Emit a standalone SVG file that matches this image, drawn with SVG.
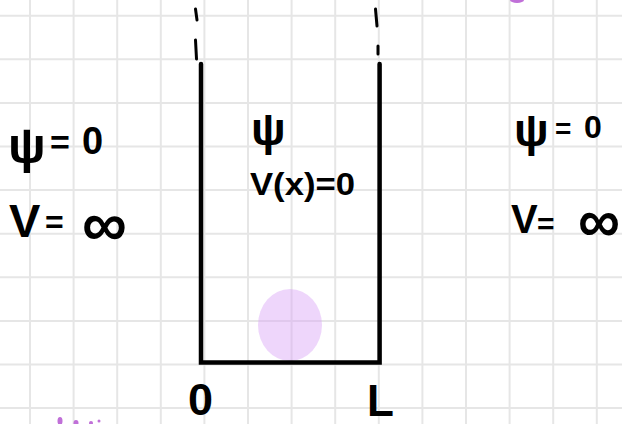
<svg xmlns="http://www.w3.org/2000/svg" width="622" height="424" viewBox="0 0 622 424">
<defs>
<style>
.grid line{stroke:#e6e6e6;stroke-width:2}
.wall{stroke:#000;stroke-width:4.5;fill:none;stroke-linecap:round;stroke-linejoin:miter}
.dash{stroke:#000;stroke-width:3;stroke-linecap:round;fill:none}
.t{font-family:"Liberation Sans","DejaVu Sans",sans-serif;font-weight:bold;fill:#000}
.p{fill:#c070d8}
</style>
</defs>
<rect width="622" height="424" fill="#fff"/>
<g class="grid">
<line x1="30" y1="0" x2="30" y2="424"/><line x1="73.6" y1="0" x2="73.6" y2="424"/><line x1="117.2" y1="0" x2="117.2" y2="424"/><line x1="160.8" y1="0" x2="160.8" y2="424"/><line x1="204.4" y1="0" x2="204.4" y2="424"/><line x1="248" y1="0" x2="248" y2="424"/><line x1="291.6" y1="0" x2="291.6" y2="424"/><line x1="335.2" y1="0" x2="335.2" y2="424"/><line x1="378.8" y1="0" x2="378.8" y2="424"/><line x1="422.4" y1="0" x2="422.4" y2="424"/><line x1="466" y1="0" x2="466" y2="424"/><line x1="509.6" y1="0" x2="509.6" y2="424"/><line x1="553.2" y1="0" x2="553.2" y2="424"/><line x1="596.8" y1="0" x2="596.8" y2="424"/>
<line x1="0" y1="15.7" x2="622" y2="15.7"/><line x1="0" y1="59.3" x2="622" y2="59.3"/><line x1="0" y1="102.9" x2="622" y2="102.9"/><line x1="0" y1="146.5" x2="622" y2="146.5"/><line x1="0" y1="190.1" x2="622" y2="190.1"/><line x1="0" y1="233.7" x2="622" y2="233.7"/><line x1="0" y1="277.3" x2="622" y2="277.3"/><line x1="0" y1="320.9" x2="622" y2="320.9"/><line x1="0" y1="364.5" x2="622" y2="364.5"/><line x1="0" y1="408.1" x2="622" y2="408.1"/>
</g>
<ellipse id="particle" cx="290" cy="325" rx="32" ry="36" fill="#d9a4f7" fill-opacity="0.45"/>
<g id="well">
<path class="wall" d="M201,64 L201,362.5 L379.6,362.5 L379.6,64"/>
<path class="dash" d="M195.5,9 L197,20" stroke-width="3.5"/>
<path class="dash" d="M195.5,40 L196.5,59"/>
<path class="dash" d="M375.5,9 L377,26" stroke-width="3.5"/>
<path class="dash" d="M378,46 L378,54" stroke-width="3.5"/>
</g>
<g id="left-labels">
<text class="t"><tspan x="8" y="163" font-size="50">ψ</tspan><tspan x="50" y="154" font-size="34">=</tspan><tspan x="82" y="154" font-size="38">0</tspan></text>
<text class="t"><tspan x="9" y="237" font-size="47">V</tspan><tspan x="45" y="233" font-size="32">=</tspan><tspan x="82" y="246" font-size="64" textLength="45" lengthAdjust="spacingAndGlyphs">∞</tspan></text>
</g>
<g id="center-labels">
<text class="t" x="251" y="145" font-size="46">ψ</text>
<text class="t" x="250" y="195" font-size="32" textLength="105" lengthAdjust="spacingAndGlyphs">V(x)=0</text>
</g>
<g id="right-labels">
<text class="t"><tspan x="514" y="146" font-size="46">ψ</tspan><tspan x="555" y="138" font-size="28">=</tspan><tspan x="584" y="138" font-size="32">0</tspan></text>
<text class="t"><tspan x="511" y="233" font-size="40">V</tspan><tspan x="537" y="234" font-size="30">=</tspan><tspan x="578" y="242" font-size="62" textLength="42" lengthAdjust="spacingAndGlyphs">∞</tspan></text>
</g>
<g id="axis-labels">
<text class="t" x="188" y="415" font-size="45">0</text>
<text class="t" x="367" y="416" font-size="44">L</text>
</g>
<g id="purple-marks">
<ellipse class="p" cx="517" cy="0" rx="7" ry="3"/>
<ellipse class="p" cx="60" cy="421" rx="2.5" ry="4"/>
<ellipse class="p" cx="76" cy="423" rx="2.5" ry="3"/>
<ellipse class="p" cx="91" cy="423" rx="2" ry="2"/>
<circle class="p" cx="99" cy="421" r="1.5"/>
</g>
</svg>
